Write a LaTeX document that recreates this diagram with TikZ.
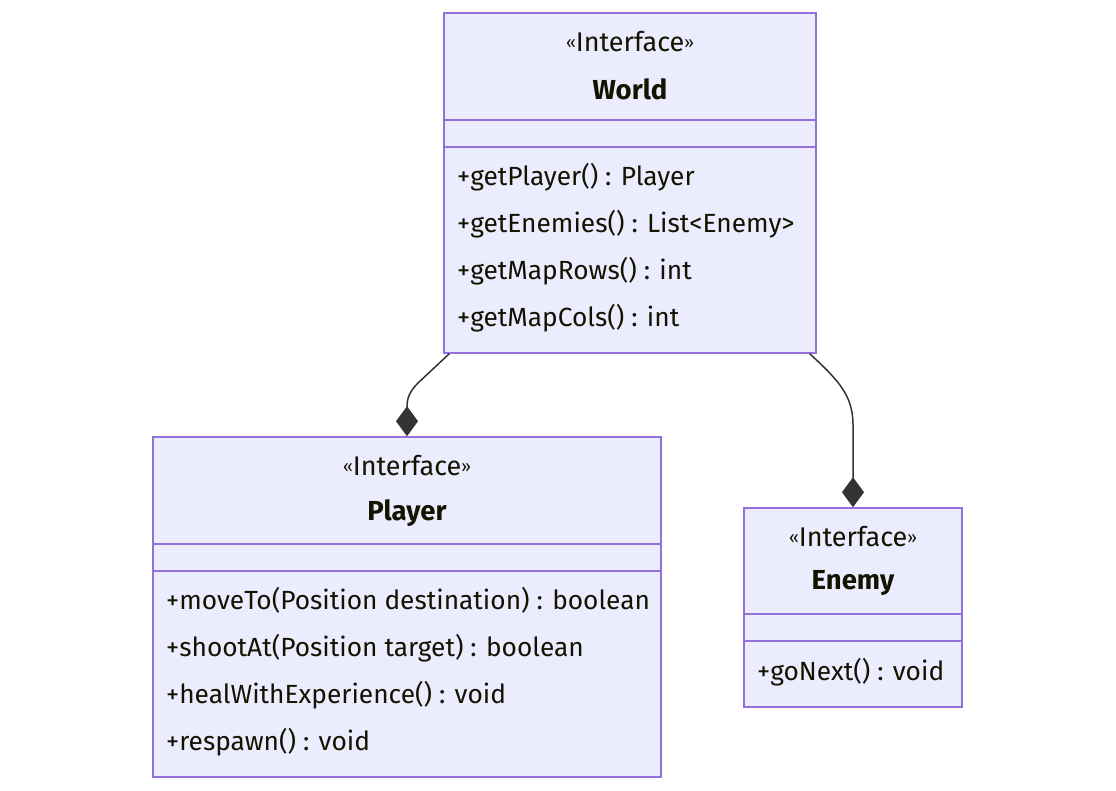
\documentclass[tikz,border=0pt]{standalone}
\usepackage{fontspec}
\setmainfont{Fira Sans}
\usetikzlibrary{arrows.meta,positioning,calc}
\definecolor{classfill}{HTML}{ECECFF}
\definecolor{classborder}{HTML}{9370DB}
\definecolor{edgegray}{HTML}{333333}
\definecolor{textdark}{HTML}{131300}
\newcommand{\guil}[1]{{\fontsize{17}{17}\selectfont\raisebox{3pt}{#1}}}
\newcommand{\stereotype}[1]{\guil{«}#1\guil{»}}

\begin{document}
\begin{tikzpicture}[x=1pt, y=-1pt]
\tikzstyle{classbox} = [rectangle, draw=classborder, fill=classfill, line width=1.5pt, inner sep=0pt]
\tikzstyle{divider} = [draw=classborder, line width=1.5pt]
\tikzstyle{stereo} = [font=\fontsize{27}{31}\selectfont, text=textdark, inner sep=0pt]
\tikzstyle{cname} = [font=\fontsize{27.5}{31}\selectfont\bfseries, text=textdark, inner sep=0pt]
\tikzstyle{member} = [font=\fontsize{26.3}{30}\selectfont, text=textdark, anchor=west, inner sep=0pt, text height=25pt, text depth=6pt]
\tikzstyle{comp} = [line width=1.5pt, draw=edgegray, -{Diamond[length=30pt, width=22pt, fill=edgegray]}]

\useasboundingbox (0,0) rectangle (1116,791);

% World
\node (World) [classbox, minimum width=372pt, minimum height=340pt] at (630,183) {};
\draw [divider] (444,120) -- (816,120);
\draw [divider] (444,147) -- (816,147);
\node (WorldStereo) [stereo] at (630,42) {\stereotype{Interface}};
\node (WorldName) [cname] at (630,89) {World};
\node (getPlayer) [member] at (457,176) {+getPlayer() : Player};
\node (getEnemies) [member] at (457,223) {+getEnemies() : List<Enemy>};
\node (getMapRows) [member] at (457,270) {+getMapRows() : int};
\node (getMapCols) [member] at (457,317) {+getMapCols() : int};

% Player
\node (Player) [classbox, minimum width=508pt, minimum height=340pt] at (407,607) {};
\draw [divider] (153,544) -- (661,544);
\draw [divider] (153,571) -- (661,571);
\node (PlayerStereo) [stereo] at (407,466) {\stereotype{Interface}};
\node (PlayerName) [cname] at (407,513) {Player};
\node (moveTo) [member] at (166,600) {+moveTo(Position destination) : boolean};
\node (shootAt) [member] at (166,647) {+shootAt(Position target) : boolean};
\node (heal) [member] at (166,694) {+healWithExperience() : void};
\node (respawn) [member] at (166,741) {+respawn() : void};

% Enemy
\node (Enemy) [classbox, minimum width=218pt, minimum height=199pt] at (853,607.5) {};
\draw [divider] (744,614) -- (962,614);
\draw [divider] (744,641) -- (962,641);
\node (EnemyStereo) [stereo] at (853,537) {\stereotype{Interface}};
\node (EnemyName) [cname] at (853,583) {Enemy};
\node (goNext) [member] at (757,671) {+goNext() : void};

% compositions
\draw [comp] ($(World.south west)+(6,0)$) -- (418,383) .. controls (409,392) and (407,399) .. (407,407) -- (Player.north);
\draw [comp] ($(World.south east)+(-7,0)$) .. controls (838,380) and (853,395) .. (853,425) -- (Enemy.north);
\end{tikzpicture}
\end{document}
